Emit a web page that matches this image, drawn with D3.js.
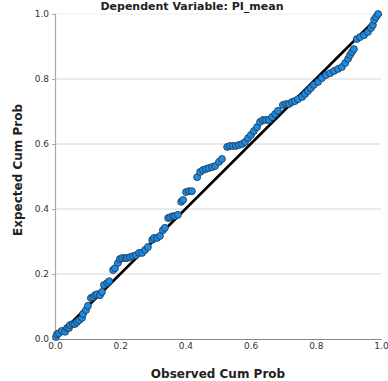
<!DOCTYPE html>
<html>
<head>
<meta charset="utf-8">
<script src="https://cdn.jsdelivr.net/npm/d3@7"></script>
<style>
  body { margin: 0; background: #fff; }
  svg { display: block; }
  .tick text { font-family: "DejaVu Sans", sans-serif; font-size: 9px; fill: #333; }
  .axis-title { font-family: "DejaVu Sans", sans-serif; font-weight: bold; fill: #222; }
</style>
</head>
<body>
<div id="chart"></div>
<script>
// observed cumulative probability (x) and expected cumulative probability (y)
const observed = [
  0.003, 0.006, 0.012, 0.021, 0.031, 0.037, 0.043, 0.046, 0.055, 0.061,
  0.067, 0.074, 0.083, 0.086, 0.095, 0.101, 0.110, 0.117, 0.123, 0.129,
  0.138, 0.144, 0.150, 0.160, 0.166, 0.178, 0.184, 0.193, 0.199, 0.206,
  0.215, 0.221, 0.230, 0.239, 0.248, 0.258, 0.267, 0.276, 0.285, 0.298,
  0.304, 0.313, 0.322, 0.331, 0.337, 0.347, 0.353, 0.362, 0.368, 0.377,
  0.387, 0.393, 0.402, 0.411, 0.420, 0.436, 0.445, 0.454, 0.463, 0.472,
  0.482, 0.491, 0.503, 0.512, 0.528, 0.537, 0.546, 0.555, 0.564, 0.574,
  0.583, 0.592, 0.601, 0.610, 0.620, 0.629, 0.638, 0.647, 0.656, 0.666,
  0.675, 0.684, 0.699, 0.709, 0.718, 0.727, 0.736, 0.745, 0.758, 0.767,
  0.776, 0.785, 0.794, 0.807, 0.819, 0.831, 0.844, 0.856, 0.868, 0.880,
  0.890, 0.899, 0.905, 0.911, 0.917, 0.926, 0.936, 0.948, 0.960, 0.969,
  0.975, 0.979, 0.985, 0.991
];
const expected = [
  0.006, 0.015, 0.018, 0.025, 0.022, 0.034, 0.034, 0.043, 0.046, 0.046,
  0.052, 0.058, 0.065, 0.077, 0.089, 0.102, 0.126, 0.129, 0.135, 0.138,
  0.135, 0.145, 0.166, 0.172, 0.178, 0.212, 0.218, 0.234, 0.246, 0.249,
  0.249, 0.249, 0.252, 0.255, 0.258, 0.265, 0.265, 0.274, 0.283, 0.305,
  0.311, 0.311, 0.317, 0.335, 0.342, 0.372, 0.375, 0.378, 0.378, 0.382,
  0.422, 0.428, 0.452, 0.455, 0.455, 0.498, 0.514, 0.520, 0.523, 0.526,
  0.529, 0.532, 0.545, 0.554, 0.591, 0.594, 0.594, 0.594, 0.597, 0.600,
  0.606, 0.618, 0.628, 0.640, 0.652, 0.668, 0.674, 0.674, 0.674, 0.683,
  0.692, 0.702, 0.720, 0.723, 0.723, 0.729, 0.732, 0.738, 0.745, 0.754,
  0.763, 0.772, 0.782, 0.791, 0.803, 0.812, 0.818, 0.825, 0.831, 0.837,
  0.849, 0.862, 0.874, 0.883, 0.892, 0.923, 0.929, 0.935, 0.945, 0.957,
  0.966, 0.982, 0.991, 1.000
];
const tickValues = [0.0, 0.2, 0.4, 0.6, 0.8, 1.0];
const chartTitle = 'Dependent Variable: PI_mean';
const xTitle = 'Observed Cum Prob';
const yTitle = 'Expected Cum Prob';

const points = observed.map((x, i) => ({x: x, y: expected[i]}));

const width = 388, height = 381;
const margin = {top: 14, right: 7, bottom: 42, left: 55};
const innerW = width - margin.left - margin.right;
const innerH = height - margin.top - margin.bottom;

const svg = d3.select('#chart').append('svg')
  .attr('width', width)
  .attr('height', height);

const g = svg.append('g')
  .attr('transform', 'translate(' + margin.left + ',' + margin.top + ')');

const xScale = d3.scaleLinear().domain([0, 1]).range([0, innerW]);
const yScale = d3.scaleLinear().domain([0, 1]).range([innerH, 0]);

// horizontal grid lines
g.append('g')
  .selectAll('line')
  .data(tickValues.filter(t => t > 0))
  .enter()
  .append('line')
  .attr('x1', 0)
  .attr('x2', innerW)
  .attr('y1', d => yScale(d))
  .attr('y2', d => yScale(d))
  .style('stroke', d => d === 1 ? '#eeeeee' : '#d6d6d6')
  .style('stroke-width', 1);

// axes
const xAxis = d3.axisBottom(xScale)
  .tickValues(tickValues)
  .tickFormat(d3.format('.1f'))
  .tickSize(0)
  .tickPadding(4);
const xg = g.append('g')
  .attr('transform', 'translate(0,' + innerH + ')')
  .call(xAxis);
xg.select('.domain').style('stroke', '#8a8a8a').style('stroke-width', 1.2);

const yAxis = d3.axisLeft(yScale)
  .tickValues(tickValues)
  .tickFormat(d3.format('.1f'))
  .tickSize(3)
  .tickPadding(3);
const yg = g.append('g').call(yAxis);
yg.select('.domain').style('stroke', '#aaa').style('stroke-width', 1.2);
yg.selectAll('.tick line').style('stroke', '#aaa');

// reference line
g.append('line')
  .attr('x1', xScale(0))
  .attr('y1', yScale(0))
  .attr('x2', xScale(1))
  .attr('y2', yScale(1))
  .style('stroke', '#000')
  .style('stroke-width', 2.6);

// points
g.selectAll('.pt')
  .data(points)
  .enter()
  .append('circle')
  .attr('class', 'pt')
  .attr('cx', d => xScale(d.x))
  .attr('cy', d => yScale(d.y))
  .attr('r', 3.5)
  .style('fill', '#1e8ae2')
  .style('stroke', '#1d2a38')
  .style('stroke-width', 0.7);

// titles
svg.append('text')
  .attr('class', 'axis-title')
  .attr('x', 192)
  .attr('y', 10)
  .attr('text-anchor', 'middle')
  .style('font-size', '11px')
  .text(chartTitle);

svg.append('text')
  .attr('class', 'axis-title')
  .attr('x', 218)
  .attr('y', 378)
  .attr('text-anchor', 'middle')
  .style('font-size', '12px')
  .text(xTitle);

svg.append('text')
  .attr('class', 'axis-title')
  .attr('transform', 'translate(22,170) rotate(-90)')
  .attr('text-anchor', 'middle')
  .style('font-size', '12px')
  .text(yTitle);
</script>
</body>
</html>
